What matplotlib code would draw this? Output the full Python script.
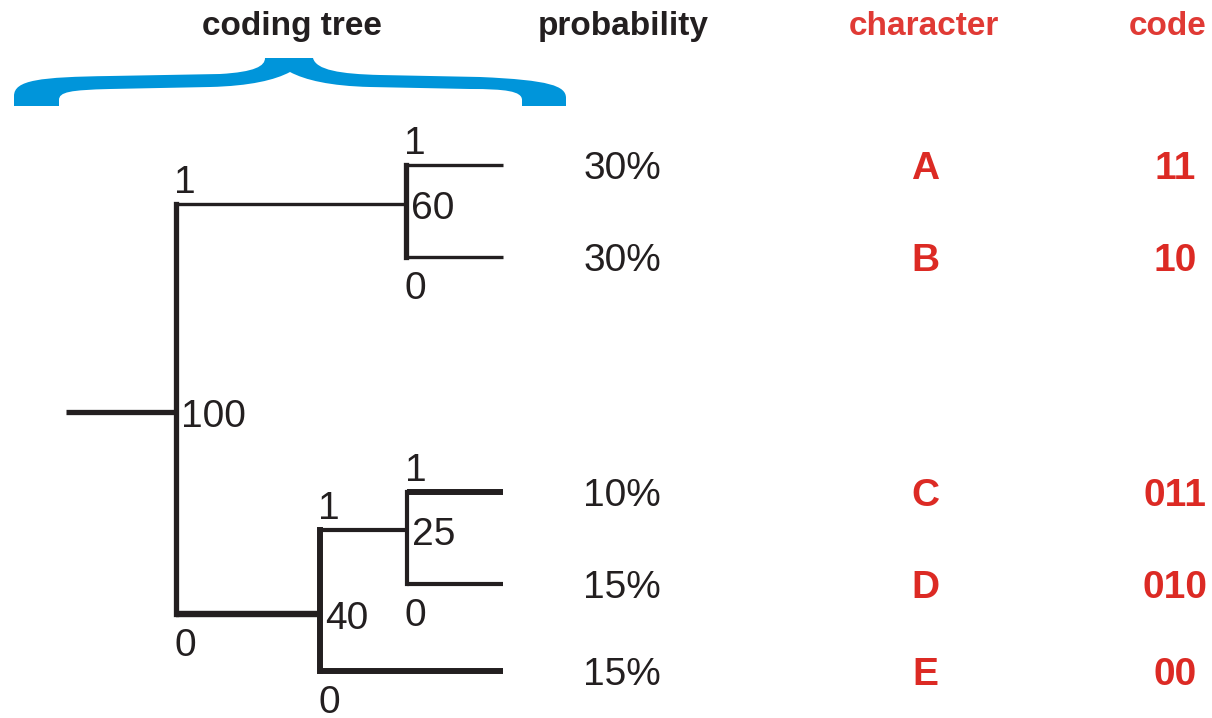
import matplotlib.pyplot as plt
from matplotlib.path import Path
from matplotlib.patches import PathPatch

# data
chars = ["A", "B", "C", "D", "E"]
probs = [30, 30, 10, 15, 15]
codes = ["11", "10", "011", "010", "00"]
headers = ["coding tree", "probability", "character", "code"]

# layout in pixels (y grows downwards)
W, H = 1212, 718
leaf_y = [165, 257, 492, 584, 671]
leaf_end = 503
stub_start = 66
node_x = {"": 176, "1": 406, "0": 320, "01": 407}
node_y = {"": 412, "1": 204, "0": 614, "01": 530}
header_x = [292, 623, 924, 1168]
col_x = [622, 925, 1175]

# line widths (pt)
vert_lw = {"": 3.8, "1": 3.8, "0": 4.3, "01": 3.0}
horiz_lw = {"1": 2.4, "0": 4.6, "11": 2.4, "10": 2.4,
            "01": 3.0, "00": 4.3, "011": 4.3, "010": 3.0}

INK = "#231f20"
RED = "#dc2a24"
BLUE = "#0095da"
FONT = "Liberation Sans"
FS = 28


def weight(prefix):
    return sum(p for p, c in zip(probs, codes) if c.startswith(prefix))


def child_y(code):
    if code in node_y:
        return node_y[code]
    return leaf_y[codes.index(code)]


def child_x(code):
    return node_x.get(code, leaf_end)


fig = plt.figure(figsize=(W / 100, H / 100), dpi=100)
ax = fig.add_axes([0, 0, 1, 1])
ax.set_xlim(0, W)
ax.set_ylim(H, 0)
ax.axis("off")

# root stub
ax.plot([stub_start, node_x[""]], [node_y[""]] * 2, color=INK, lw=3.8,
        solid_capstyle="butt")

for prefix in node_x:
    x = node_x[prefix]
    c1, c0 = prefix + "1", prefix + "0"
    y1, y0 = child_y(c1), child_y(c0)
    ax.plot([x, x], [y1, y0], color=INK, lw=vert_lw[prefix],
            solid_capstyle="projecting")
    for c, y in ((c1, y1), (c0, y0)):
        ax.plot([x, child_x(c)], [y, y], color=INK, lw=horiz_lw[c],
                solid_capstyle="butt")
    # branch labels
    ax.text(x - 2, y1 - 11, "1", fontsize=FS, family=FONT, color=INK,
            ha="left", va="baseline")
    ax.text(x - 2, y0 + 14, "0", fontsize=FS, family=FONT, color=INK,
            ha="left", va="top")
    # node weight
    ax.text(x + 5, node_y[prefix] + 15, str(weight(prefix)), fontsize=FS,
            family=FONT, color=INK, ha="left", va="baseline")

# table columns
for y, p, ch, cd in zip(leaf_y, probs, chars, codes):
    ax.text(col_x[0], y + 14, f"{p}%", fontsize=FS, family=FONT, color=INK,
            ha="center", va="baseline")
    ax.text(col_x[1], y + 14, ch, fontsize=FS, family=FONT, color=RED,
            weight="bold", ha="center", va="baseline")
    ax.text(col_x[2], y + 14, cd, fontsize=FS, family=FONT, color=RED,
            weight="bold", ha="center", va="baseline")

# headers
for i, (hx, txt) in enumerate(zip(header_x, headers)):
    ax.text(hx, 35, txt, fontsize=24, family=FONT, weight="bold",
            color=INK if i < 2 else "#e03a35", ha="center", va="baseline")

# curly brace over the tree
verts = [
    (14, 106), (14, 96),
    (14, 80), (40, 77), (110, 76),
    (220, 74),
    (255, 72), (265, 66), (265, 58),
    (313, 58),
    (316, 70), (340, 74), (380, 75),
    (480, 77),
    (550, 80), (566, 86), (566, 98),
    (566, 106), (522, 106), (522, 100),
    (522, 91), (505, 89), (470, 89),
    (370, 87),
    (330, 86), (305, 80), (290, 72),
    (275, 80), (250, 86), (210, 87),
    (110, 89),
    (70, 90), (59, 92), (59, 100),
    (59, 106), (14, 106),
]
C4, L = Path.CURVE4, Path.LINETO
path_codes = [Path.MOVETO, L, C4, C4, C4, L, C4, C4, C4, L, C4, C4, C4, L,
              C4, C4, C4, L, L, L, C4, C4, C4, L, C4, C4, C4, C4, C4, C4, L,
              C4, C4, C4, L, Path.CLOSEPOLY]
ax.add_patch(PathPatch(Path(verts, path_codes), facecolor=BLUE,
                       edgecolor="none"))

fig.savefig("out.png", dpi=100)
